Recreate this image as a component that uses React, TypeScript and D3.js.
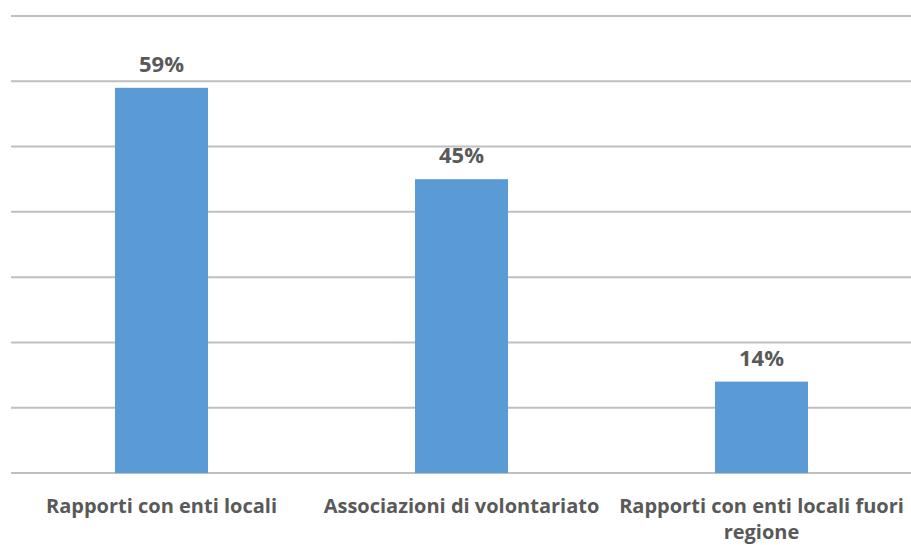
import React from "react";
import * as d3 from "d3";

const categories = ["Rapporti con enti locali", "Associazioni di volontariato", "Rapporti con enti locali fuori regione"];
const values = [0.59, 0.45, 0.14];
const gridTicks = [0, 0.1, 0.2, 0.3, 0.4, 0.5, 0.6, 0.7];

const W = 911, H = 545;
const FONT = "'Open Sans', sans-serif";

function wrap(text: string, maxW: number, fontSize: number): string[] {
  const canvas = document.createElement("canvas");
  const ctx = canvas.getContext("2d")!;
  ctx.font = `bold ${fontSize}px 'Open Sans'`;
  const words = text.split(" ");
  const lines: string[] = [];
  let cur = "";
  for (const w of words) {
    const t = cur ? cur + " " + w : w;
    if (ctx.measureText(t).width > maxW && cur) {
      lines.push(cur);
      cur = w;
    } else cur = t;
  }
  if (cur) lines.push(cur);
  return lines;
}

export default function App() {
  const x = d3.scaleBand<string>().domain(categories).range([11.5, 911.5]).paddingInner(0.69).paddingOuter(0.345);
  const y = d3.scaleLinear().domain([0, 0.7]).range([473, 16]);
  const fs = 20;
  return (
    <svg width={W} height={H} style={{ position: "absolute", left: 0, top: 0, background: "#fff" }}>
      {gridTicks.map((t) => (
        <line key={t} x1={11} x2={911} y1={y(t)} y2={y(t)} stroke="#bfbfbf" strokeWidth={2} />
      ))}
      {categories.map((c, i) => (
        <g key={c}>
          <rect x={x(c)} y={y(values[i])} width={x.bandwidth()} height={y(0) - y(values[i])} fill="#5b9bd5" />
          <text x={x(c)! + x.bandwidth() / 2} y={y(values[i]) - 16} textAnchor="middle" fontFamily={FONT} fontWeight="bold" fontSize={22} fill="#595959">
            {d3.format(".0%")(values[i])}
          </text>
          <text x={x(c)! + x.bandwidth() / 2} y={513} textAnchor="middle" fontFamily={FONT} fontWeight="bold" fontSize={fs} fill="#595959">
            {wrap(c, 295, fs).map((l, j) => (
              <tspan key={j} x={x(c)! + x.bandwidth() / 2} dy={j === 0 ? 0 : 26}>{l}</tspan>
            ))}
          </text>
        </g>
      ))}
    </svg>
  );
}
